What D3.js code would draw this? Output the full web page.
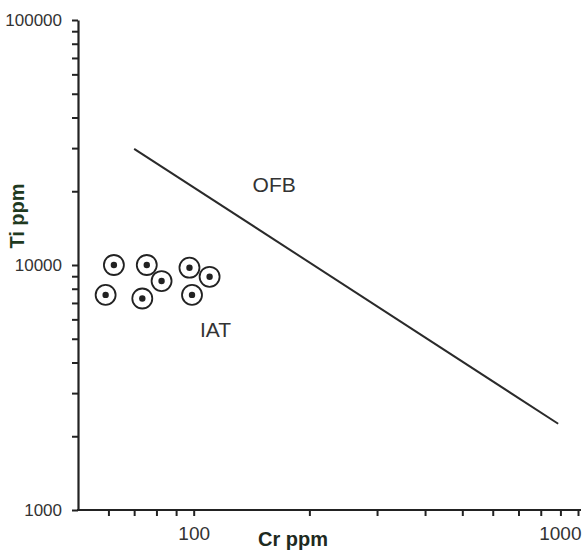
<!DOCTYPE html>
<html>
<head>
<meta charset="utf-8">
<script src="https://cdn.jsdelivr.net/npm/d3@7"></script>
<style>
  body { margin: 0; background: #fff; }
  svg { display: block; font-family: "Liberation Sans", Arial, Helvetica, sans-serif; }
</style>
</head>
<body>
<svg id="chart" width="585" height="551"></svg>
<script>
// ---- data ----
const sampleCr = [62, 75.5, 82.5, 97.5, 110, 99, 59, 73.5];
const sampleTi = [10000, 10000, 8600, 9750, 8950, 7550, 7550, 7300];
const boundaryCr = [70, 888];
const boundaryTi = [29800, 2250];
const xTicks = [60, 70, 80, 90, 100, 200, 300, 400, 500, 600, 700, 800, 900, 1000];
const xTickLabels = [100, 1000];
const yTicks = [1000, 2000, 3000, 4000, 5000, 6000, 7000, 8000, 9000,
                10000, 20000, 30000, 40000, 50000, 60000, 70000, 80000, 90000, 100000];
const yTickLabels = [1000, 10000, 100000];
const fieldLabels = [
  {text: "OFB", cr: 162, ti: 21200},
  {text: "IAT", cr: 114, ti: 5450}
];

const svg = d3.select("#chart");
const ink = "#222";

const x = d3.scaleLog().domain([50, 1000]).range([78, 578]);
const y = d3.scaleLog().domain([1000, 100000]).range([510, 20]);

// Y axis
const yAxis = d3.axisLeft(y)
  .tickValues(yTicks)
  .tickSize(6)
  .tickSizeOuter(0)
  .tickPadding(10)
  .tickFormat(d => yTickLabels.includes(d) ? String(d) : "");
const gy = svg.append("g").attr("transform", `translate(${x(50)},0)`).call(yAxis);
gy.select(".domain").attr("stroke", ink).attr("stroke-width", 2.2);
gy.selectAll(".tick line").attr("stroke", ink).attr("stroke-width", 2);
gy.selectAll(".tick text").attr("fill", "#333").style("font-size", "17px");

// X axis
const xAxis = d3.axisBottom(x)
  .tickValues(xTicks)
  .tickSize(6)
  .tickSizeOuter(0)
  .tickPadding(11)
  .tickFormat(d => xTickLabels.includes(d) ? String(d) : "");
const gx = svg.append("g").attr("transform", `translate(0,${y(1000)})`).call(xAxis);
gx.select(".domain").attr("stroke", ink).attr("stroke-width", 2.2)
  .attr("d", `M${x(50) - 1},0H${x(1000) + 3}`);
gx.selectAll(".tick line").attr("stroke", ink).attr("stroke-width", 2);
gx.selectAll(".tick text").attr("fill", "#333").style("font-size", "19px")
  .filter(d => d === 1000).attr("text-anchor", "end").attr("dx", 3);

// Axis titles
svg.append("text")
  .attr("x", 293).attr("y", 546)
  .attr("text-anchor", "middle")
  .attr("font-weight", "bold")
  .attr("fill", "#1e2a1e")
  .style("font-size", "20px")
  .text("Cr ppm");
svg.append("text")
  .attr("transform", "translate(24,216) rotate(-90)")
  .attr("text-anchor", "middle")
  .attr("font-weight", "bold")
  .attr("fill", "#1f3a1f")
  .style("font-size", "20px")
  .text("Ti ppm");

// Boundary line
svg.append("line")
  .attr("x1", x(boundaryCr[0])).attr("y1", y(boundaryTi[0]))
  .attr("x2", x(boundaryCr[1])).attr("y2", y(boundaryTi[1]))
  .attr("stroke", "#2a2a2a").attr("stroke-width", 2);

// Field labels
svg.selectAll("text.field").data(fieldLabels).enter().append("text")
  .attr("class", "field")
  .attr("x", d => x(d.cr)).attr("y", d => y(d.ti))
  .attr("text-anchor", "middle")
  .attr("dy", "0.35em")
  .attr("fill", "#333")
  .style("font-size", "21px")
  .text(d => d.text);

// Samples
const pts = sampleCr.map((c, i) => ({cr: c, ti: sampleTi[i]}));
const g = svg.append("g");
g.selectAll("circle.ring").data(pts).enter().append("circle")
  .attr("class", "ring")
  .attr("cx", d => x(d.cr)).attr("cy", d => y(d.ti))
  .attr("r", 10)
  .attr("fill", "none").attr("stroke", ink).attr("stroke-width", 1.8);
g.selectAll("circle.dot").data(pts).enter().append("circle")
  .attr("class", "dot")
  .attr("cx", d => x(d.cr)).attr("cy", d => y(d.ti))
  .attr("r", 3.2)
  .attr("fill", ink);
</script>
</body>
</html>
